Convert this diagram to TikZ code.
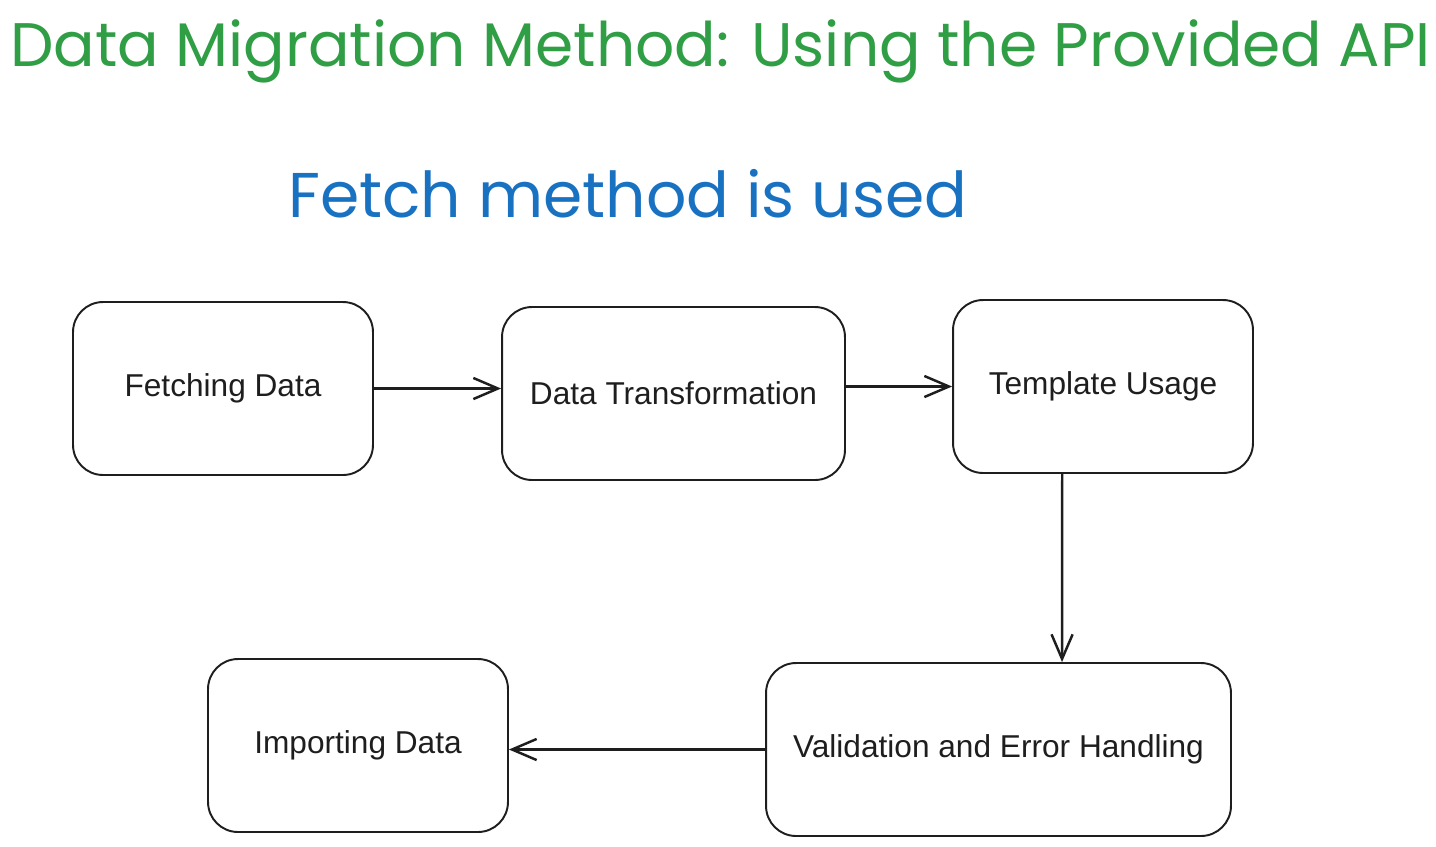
\documentclass[tikz,border=0pt]{standalone}
\usepackage{fontspec}
\setmainfont{Liberation Sans}
\newfontfamily\headfont{Poppins}
\usetikzlibrary{arrows.meta}
\definecolor{ink}{HTML}{1E1E1E}
\definecolor{titlegreen}{HTML}{2F9E44}
\definecolor{subblue}{HTML}{1971C2}

\begin{document}
\begin{tikzpicture}[x=0.02cm, y=-0.02cm,
    stage/.style={draw=ink, line width=1.1pt, rounded corners=0.6cm,
                  minimum height=3.46cm, inner sep=0pt, text=ink,
                  font=\fontsize{18}{22}\selectfont},
    flow/.style={draw=ink, line width=1.4pt,
                 -{Straight Barb[length=14pt, width=12pt, line width=1.4pt]}}]
        \useasboundingbox (0,0) rectangle (1436,846);

        \node[anchor=west, inner sep=0pt, text=titlegreen, font=\headfont\fontsize{35}{40}\selectfont] (title) at (10, 51)  {Data Migration Method: Using the Provided API};
        \node[anchor=west, inner sep=0pt, text=subblue,    font=\headfont\fontsize{36}{42}\selectfont] (sub)   at (288, 194) {Fetch method is used};

        \node[stage, minimum width=6cm]    (fetch) at (223,   388.5) {Fetching Data};
        \node[stage, minimum width=6.86cm] (trans) at (673.5, 393.5) {Data Transformation};
        \node[stage, minimum width=6cm]    (tmpl)  at (1103,  386.5) {Template Usage};
        \node[stage, minimum width=9.3cm]  (valid) at (998.5, 749.5) {Validation and Error Handling};
        \node[stage, minimum width=6cm]    (imp)   at (358,   745.5) {Importing Data};

        \draw[flow] (fetch.east)              -- (fetch.east -| trans.west);
        \draw[flow] (tmpl.west -| trans.east) -- (tmpl.west);
        \draw[flow] (tmpl.-115)               -- (valid.54);
        \draw[flow] (valid.west)              -- (valid.west -| imp.east);
    \end{tikzpicture}
\end{document}
